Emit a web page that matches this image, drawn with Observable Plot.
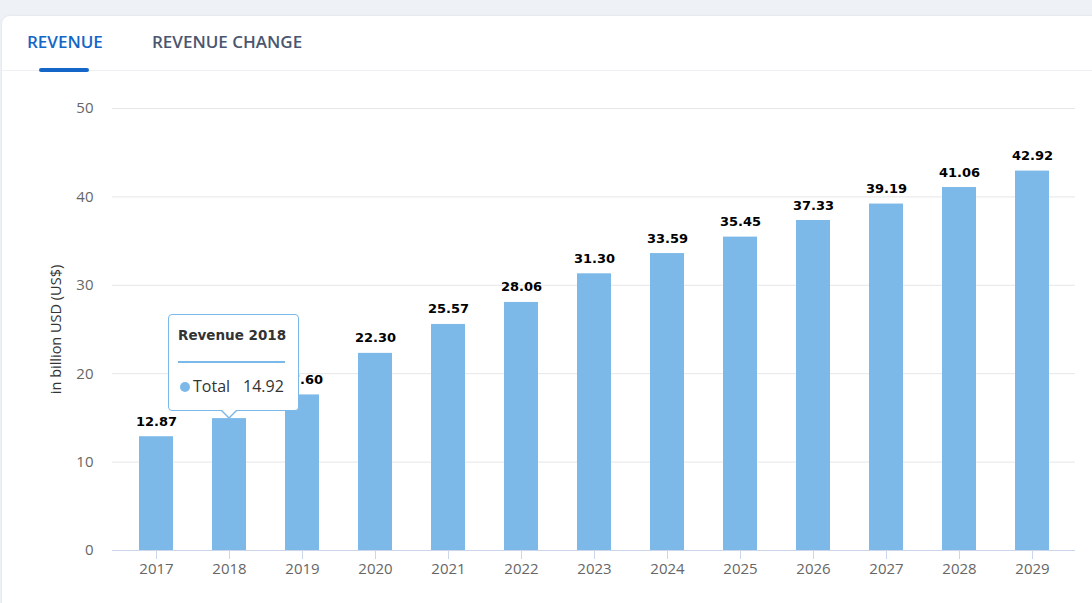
<!DOCTYPE html>
<html>
<head>
<meta charset="utf-8">
<script src="https://cdn.jsdelivr.net/npm/d3@7"></script>
<script src="https://cdn.jsdelivr.net/npm/@observablehq/plot@0.6"></script>
<style>
  html, body { margin: 0; padding: 0; }
  body { width: 1092px; height: 603px; overflow: hidden; background: #eef1f5; position: relative; font-family: "Open Sans", sans-serif; }
  #card { position: absolute; left: 2px; top: 16px; width: 1100px; height: 600px; background: #fff; border-radius: 8px; box-shadow: 0 0 3px rgba(0,0,0,0.08); }
  .tab { position: absolute; top: 30px; font-size: 17px; font-weight: 600; }
  #tab1 { left: 27px; color: #1466c8; }
  #tab2 { left: 152px; color: #4a5670; }
  #underline { position: absolute; left: 39px; top: 68px; width: 50px; height: 4px; border-radius: 2px; background: #1466c8; }
  #divider { position: absolute; left: 2px; top: 70px; width: 1092px; height: 1px; background: #eef0f3; }
  #chart { position: absolute; left: 0; top: 80px; }
  #tip { position: absolute; box-sizing: border-box; width: 131px; height: 97px; background: #fff; border: 1px solid #7cb9e8; border-radius: 4px; }
  #tip .title { position: absolute; left: 9px; top: 12px; font-family: "DejaVu Sans", sans-serif; font-weight: bold; font-size: 13.5px; color: #333; }
  #tip .sep { position: absolute; left: 9px; top: 46px; width: 107px; height: 2px; background: #7cb9e8; }
  #tip .dot { position: absolute; left: 11px; top: 67px; width: 10px; height: 10px; border-radius: 50%; background: #7cb9e8; }
  #tip .name { position: absolute; left: 24px; top: 60px; font-size: 16px; color: #333; }
  #tip .val { position: absolute; left: 74px; top: 60px; font-size: 16px; color: #333; }
  #arrow-o, #arrow-i { position: absolute; width: 0; height: 0; }
</style>
</head>
<body>
<div id="card"></div>
<div class="tab" id="tab1">REVENUE</div>
<div class="tab" id="tab2">REVENUE CHANGE</div>
<div id="divider"></div>
<div id="underline"></div>
<div id="chart"></div>
<script>
const years = ["2017","2018","2019","2020","2021","2022","2023","2024","2025","2026","2027","2028","2029"];
const revenue = [12.87,14.92,17.60,22.30,25.57,28.06,31.30,33.59,35.45,37.33,39.19,41.06,42.92];
const yTicks = [0,10,20,30,40,50];
const yLabel = "in billion USD (US$)";
const tipYear = "2018";
const tipSeries = "Total";

const data = years.map((year, i) => ({year, value: revenue[i]}));

const chartTop = 80;
const plot = Plot.plot({
  width: 1092,
  height: 523,
  marginTop: 28,
  marginBottom: 53,
  marginLeft: 112,
  marginRight: 17,
  style: {fontFamily: "'Open Sans', sans-serif", fontSize: "15px", color: "#666", background: "transparent", overflow: "visible"},
  x: {type: "band", domain: years, paddingInner: 0.54, paddingOuter: 0.36, label: null},
  y: {domain: [0, 50], ticks: yTicks, label: null},
  marks: [
    Plot.ruleY(yTicks.filter(t => t > 0), {y: d => d, stroke: "#e6e6e6", strokeWidth: 1}),
    Plot.barY(data, {x: "year", y: "value", fill: "#7cb9e8"}),
    Plot.ruleY([0], {stroke: "#ccd6eb", strokeWidth: 1}),
    Plot.axisX({tickSize: 9, tickPadding: 4, stroke: "#ccd6eb", fill: "#666", fontSize: 15, label: null}),
    Plot.axisY({ticks: yTicks, tickSize: 0, tickPadding: 19, fill: "#666", fontSize: 15, label: null}),
    Plot.text([yLabel], {text: d => d, frameAnchor: "left", textAnchor: "middle", rotate: -90, dx: -56, fill: "#333", fontSize: 14.5}),
    Plot.text(data, {x: "year", y: "value", text: d => d.value.toFixed(2), dy: -11, lineAnchor: "bottom",
      fontFamily: "DejaVu Sans", fontWeight: "bold", fontSize: 13, fill: "#000"})
  ]
});
document.getElementById("chart").appendChild(plot);

// Tooltip positioned from the plot's scales
const xs = plot.scale("x"), ys = plot.scale("y");
const idx = years.indexOf(tipYear);
const cx = xs.apply(tipYear) + xs.bandwidth / 2;
const barTop = ys.apply(revenue[idx]) + chartTop;
const tip = document.createElement("div");
tip.id = "tip";
const tipH = 97;
tip.style.left = (cx - 61) + "px";
tip.style.top = (barTop - 7 - tipH) + "px";
tip.innerHTML = `<div class="title">Revenue ${tipYear}</div><div class="sep"></div><div class="dot"></div><div class="name">${tipSeries}</div><div class="val">${revenue[idx].toFixed(2)}</div>`;
document.body.appendChild(tip);
const ao = document.createElement("div");
ao.id = "arrow-o";
ao.style.left = (cx - 9) + "px";
ao.style.top = (barTop - 8) + "px";
ao.style.borderLeft = "9px solid transparent";
ao.style.borderRight = "9px solid transparent";
ao.style.borderTop = "9px solid #7cb9e8";
document.body.appendChild(ao);
const ai = document.createElement("div");
ai.id = "arrow-i";
ai.style.left = (cx - 8) + "px";
ai.style.top = (barTop - 9.5) + "px";
ai.style.borderLeft = "8px solid transparent";
ai.style.borderRight = "8px solid transparent";
ai.style.borderTop = "8px solid #fff";
document.body.appendChild(ai);
</script>
</body>
</html>
